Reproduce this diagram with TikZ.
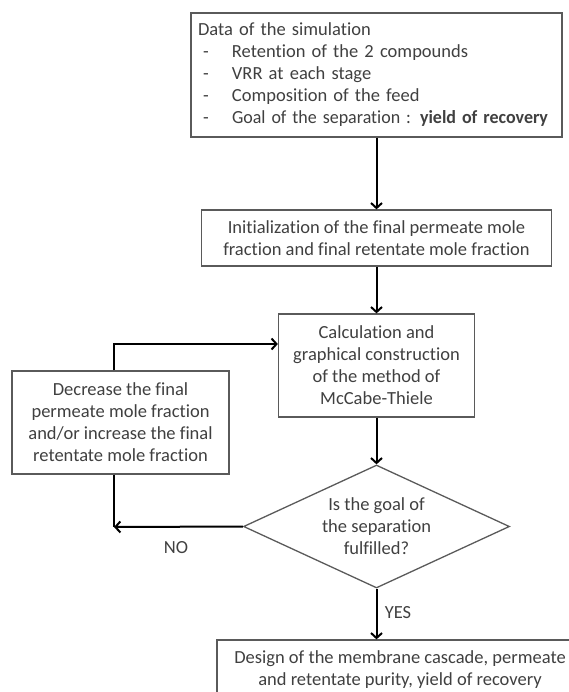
\documentclass[tikz,border=0pt]{standalone}
\usepackage{fontspec}
\setmainfont{Carlito}[RawFeature=-liga]
\usetikzlibrary{arrows.meta,shapes.geometric}
\definecolor{txt}{HTML}{404040}
\definecolor{bord}{HTML}{5A5A5A}
\tikzset{
  box/.style={draw=bord, line width=1.3pt, fill=white, text=txt, align=center, inner sep=0pt, font=\fontsize{18.5}{22}\selectfont},
  decision/.style={diamond, shape aspect=2.16, draw=bord, line width=1.3pt, text=txt, align=center, inner sep=0pt, font=\fontsize{18.5}{22}\selectfont},
  flow/.style={black, line width=2pt, -{Straight Barb[length=5pt,width=11pt]}},
  line/.style={black, line width=2pt},
  lbl/.style={text=txt, font=\fontsize{18.5}{22}\selectfont, inner sep=0pt}
}
\newcommand{\itm}{\makebox[34pt][l]{\hspace*{5pt}-}}
\begin{document}
\begin{tikzpicture}[x=1pt,y=-1pt]
\useasboundingbox (0,0) rectangle (569,692);
\begin{scope}
\clip (0,0) rectangle (569,692);
\node[box, minimum width=371pt, minimum height=124pt, align=left, text width=357pt] (data) at (376.5,75)
{Data of the simulation\\
\itm Retention of the 2 compounds\\
\itm VRR at each stage\\
\itm Composition of the feed\\
\mbox{\itm\resizebox{316pt}{\height}{Goal of the separation : \textbf{yield of recovery}}}};
\node[box, minimum width=350pt, minimum height=56pt] (init) at (376.5,238)
{Initialization of the final permeate mole\\fraction and final retentate mole fraction};
\node[box, minimum width=196pt, minimum height=103pt] (calc) at (376.5,365.5)
{Calculation and\\graphical construction\\of the method of\\McCabe-Thiele};
\node[box, minimum width=217pt, minimum height=103pt] (decr) at (120.5,422.5)
{Decrease the final\\permeate mole fraction\\and/or increase the final\\retentate mole fraction};
\node[decision, minimum width=266pt, minimum height=123pt] (goal) at (376.5,526.5)
{Is the goal of\\the separation\\fulfilled?};
\node[box, minimum width=366pt, minimum height=60pt] (design) at (400,670)
{Design of the membrane cascade, permeate\\and retentate purity, yield of recovery};
\coordinate (up) at (114,344);
\coordinate (no) at (114,527);
\draw[flow] (data.south -| init.north) -- (init.north);
\draw[flow] (init.south) -- (calc.north);
\draw[flow] (calc.south) -- (goal.north);
\draw[flow] (goal.south) -- (goal.south |- design.north);
\draw[flow] (decr.north -| up) -- (up) -- (up -| calc.west);
\draw[line] (decr.south -| no) -- (no);
\draw[flow] (goal.west) -- (no);
\node[lbl] (nolbl) at (176,548) {NO};
\node[lbl] (yeslbl) at (398,613) {YES};
\end{scope}
\end{tikzpicture}
\end{document}
